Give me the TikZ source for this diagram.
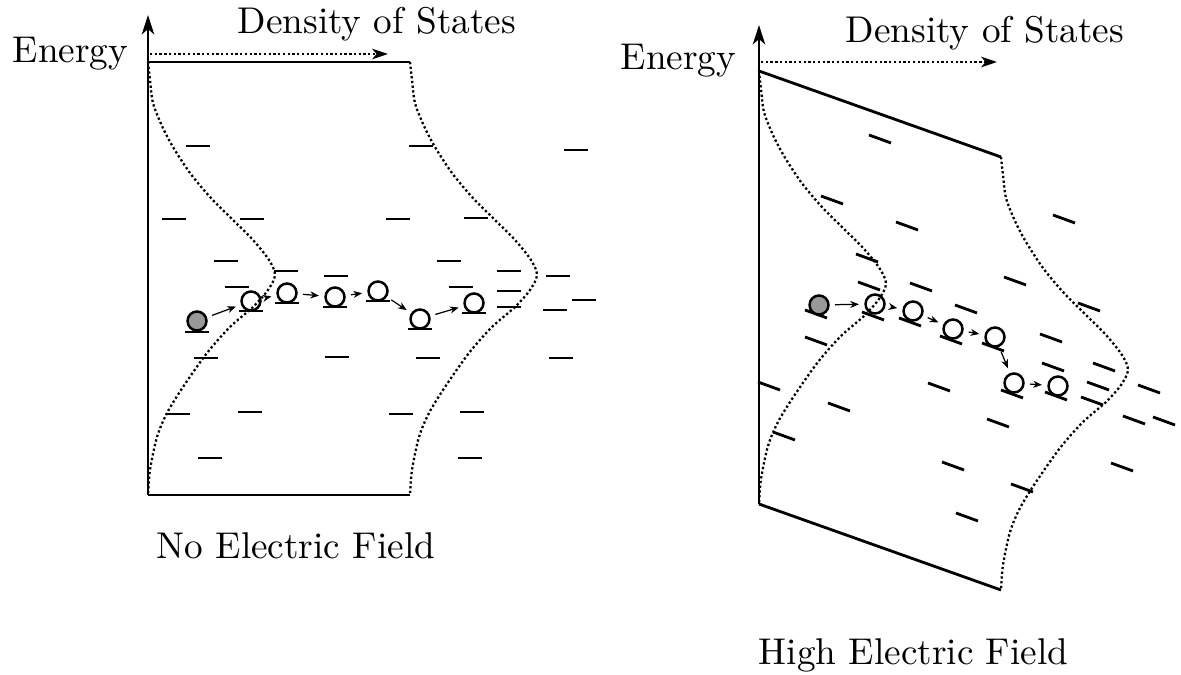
\documentclass[tikz,border=0pt]{standalone}
\usepackage{tikz}
\usetikzlibrary{arrows.meta}
\newcommand{\dosline}[2]{\draw[dotcurve] plot[smooth] coordinates {(#1,#2) (#1+2,#2+18) (#1+5,#2+41) (#1+14,#2+64) (#1+25,#2+85) (#1+42,#2+111) (#1+62,#2+135) (#1+85,#2+158) (#1+105,#2+178) (#1+121,#2+198) (#1+127,#2+213) (#1+120,#2+228) (#1+105,#2+245) (#1+82,#2+265) (#1+59,#2+291) (#1+35,#2+325) (#1+19,#2+351) (#1+9,#2+375) (#1+2,#2+408) (#1,#2+433)};}

\begin{document}
\begin{tikzpicture}[x=0.02cm, y=-0.02cm,
  lvl/.style={line width=1.6pt},
  frame/.style={line width=1.6pt},
  dotcurve/.style={line width=1.3pt, dash pattern=on 1.3pt off 1.4pt},
  dosarrow/.style={dotcurve, -{Stealth[length=9pt,width=6pt,inset=2.5pt]}},
  enaxis/.style={line width=1.6pt, -{Stealth[length=11pt,width=7pt,inset=3pt]}},
  elec/.style={circle, draw, line width=1.4pt, minimum size=0.38cm, inner sep=0pt},
  hop/.style={-{Stealth[length=5pt,width=4pt]}, line width=0.7pt, shorten <=3pt, shorten >=3pt},
  lbl/.style={font=\normalsize, inner sep=0pt, scale=2.12}]
  \useasboundingbox (0,0) rectangle (1181,675);

  % no field
  \draw[frame] (410,62) -- (148,62);
  \draw[frame] (148,495) -- (410,495);
  \draw[enaxis] (148,495) -- (148,15);
  \draw[dosarrow] (150,54) -- (388,54);
  \dosline{148}{62}
  \dosline{410}{62}
  \node[lbl, anchor=base west] (en1) at (12,63) {Energy};
  \node[lbl, anchor=base west] (dos1) at (237,34) {Density of States};
  \node[lbl, anchor=base west] (cap1) at (156,559) {No Electric Field};
  \foreach \x/\y in {198/146, 421/146, 576/150, 174/219, 252/219, 398/219, 476/218,
      226/261, 286/271, 336/276, 449/261, 509/271, 558/276, 237/287, 461/287, 509/291,
      584/300, 509/307, 555/310, 206/358, 337/357, 428/358, 561/358, 178/414, 250/412,
      401/414, 472/412, 210/458, 470/458,
      197/332, 251/311, 287/303, 335/307, 378/301, 420/329, 474/313}
    \draw[lvl] (\x-12,\y) -- (\x+12,\y);
  \node[elec, fill=black!40] (a1) at (197,321) {};
  \node[elec] (a2) at (251,301) {};
  \node[elec] (a3) at (287,293) {};
  \node[elec] (a4) at (335,297) {};
  \node[elec] (a5) at (378,291) {};
  \node[elec] (a6) at (420,319) {};
  \node[elec] (a7) at (474,303) {};
  \foreach \i [count=\j from 2] in {1,...,6}
    \draw[hop] (a\i) -- (a\j);

  % high field
  \draw[frame] (759,71) -- (1001,157);
  \draw[frame] (759,504) -- (1001,590);
  \draw[enaxis] (759,504) -- (759,25);
  \draw[dosarrow] (761,62) -- (997,62);
  \dosline{759}{71}
  \dosline{1001}{157}
  \node[lbl, anchor=base west] (en2) at (620,70) {Energy};
  \node[lbl, anchor=base west] (dos2) at (845,43) {Density of States};
  \node[lbl, anchor=base west] (cap2) at (758,664) {High Electric Field};
  \foreach \x/\y in {880/139, 832/200, 907/226, 1064/219, 867/258, 921/287, 1015/281,
      869/286, 966/309, 1089/307, 816/341, 1051/338, 1053/367, 1104/367, 769/386,
      939/387, 1098/386, 1149/389, 1092/401, 839/407, 1134/420, 1164/421, 998/423,
      784/436, 953/466, 1122/467, 1022/488, 967/517,
      816/314, 873/316, 910/322, 951/340, 993/347, 1012/394, 1056/396}
    \draw[lvl] (\x-11,\y-4) -- (\x+11,\y+4);
  \node[elec, fill=black!40] (b1) at (819,305) {};
  \node[elec] (b2) at (875,304) {};
  \node[elec] (b3) at (913,311) {};
  \node[elec] (b4) at (953,329) {};
  \node[elec] (b5) at (995,337) {};
  \node[elec] (b6) at (1014,383) {};
  \node[elec] (b7) at (1058,386) {};
  \foreach \i [count=\j from 2] in {1,...,6}
    \draw[hop] (b\i) -- (b\j);
\end{tikzpicture}
\end{document}
